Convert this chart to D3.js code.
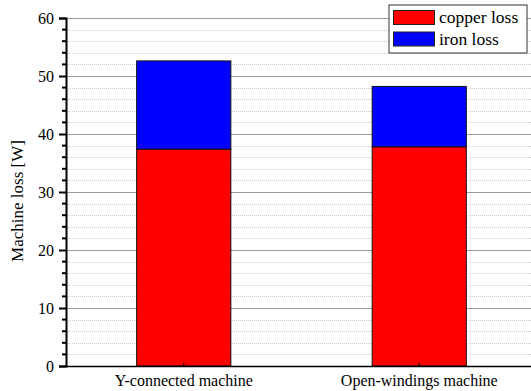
<!DOCTYPE html>
<html>
<head>
<meta charset="utf-8">
<script src="https://cdn.jsdelivr.net/npm/d3@7"></script>
<style>
  html, body { margin: 0; padding: 0; background: #fff; }
  svg { display: block; font-family: "Liberation Serif", "Times New Roman", serif; }
  svg text { font-family: "Liberation Serif", "Times New Roman", serif; fill: #000; }
</style>
</head>
<body>
<svg id="chart" width="531" height="391"></svg>
<script>
// Machine loss breakdown per winding configuration
const categories = ["Y-connected machine", "Open-windings machine"];
const copperLoss = [37.4, 37.8];
const ironLoss = [15.2, 10.4];
const seriesNames = ["copper loss", "iron loss"];
const seriesColors = ["#ff0000", "#0000ff"];
const yMajorTicks = [0, 10, 20, 30, 40, 50, 60];
const yMinorTicks = d3.range(0, 61, 2).filter(v => v % 10 !== 0);

const svg = d3.select("#chart");
const plotLeft = 66, plotRight = 537, plotTop = 18, plotBottom = 366;

const y = d3.scaleLinear().domain([0, 60]).range([plotBottom, plotTop]);
const x = d3.scaleBand().domain(categories).range([plotLeft, plotRight]).paddingInner(0.6).paddingOuter(0.3);

const rows = categories.map((c, i) => ({ cat: c, copper: copperLoss[i], iron: ironLoss[i] }));
const stacked = d3.stack().keys(["copper", "iron"])(rows);

// grid lines
svg.append("g").selectAll("line").data(yMinorTicks).join("line")
  .attr("x1", plotLeft).attr("x2", 531)
  .attr("y1", d => Math.round(y(d)) + 0.5).attr("y2", d => Math.round(y(d)) + 0.5)
  .attr("stroke", "#c8c8c8").attr("stroke-width", 1).attr("stroke-dasharray", "1,1");
svg.append("g").selectAll("line").data(yMajorTicks.filter(v => v > 0)).join("line")
  .attr("x1", plotLeft).attr("x2", 531)
  .attr("y1", d => Math.round(y(d)) + 0.5).attr("y2", d => Math.round(y(d)) + 0.5)
  .attr("stroke", "#999").attr("stroke-width", 1);

// stacked bars
svg.append("g").selectAll("g").data(stacked).join("g")
  .attr("fill", (d, i) => seriesColors[i])
  .selectAll("rect").data(d => d).join("rect")
  .attr("x", d => x(d.data.cat))
  .attr("width", x.bandwidth())
  .attr("y", d => y(d[1]))
  .attr("height", d => y(d[0]) - y(d[1]))
  .attr("stroke", "#111").attr("stroke-width", 1);

// y axis
const yAxis = svg.append("g").attr("transform", `translate(${plotLeft},0)`)
  .call(d3.axisLeft(y).tickValues(yMajorTicks).tickSize(7).tickPadding(5));
yAxis.attr("font-family", null);
yAxis.select(".domain").attr("stroke", "#000").attr("stroke-width", 2);
yAxis.selectAll(".tick line").attr("stroke-width", 2);
yAxis.selectAll(".tick text").style("font-size", "16px");
svg.append("g").selectAll("line").data(yMinorTicks).join("line")
  .attr("x1", plotLeft - 4).attr("x2", plotLeft)
  .attr("y1", d => y(d)).attr("y2", d => y(d))
  .attr("stroke", "#000").attr("stroke-width", 2);

// x axis
const xAxis = svg.append("g").attr("transform", `translate(0,${plotBottom})`)
  .call(d3.axisBottom(x).tickSize(-3).tickPadding(9).tickSizeOuter(0));
xAxis.attr("font-family", null);
xAxis.select(".domain").attr("stroke", "#000").attr("stroke-width", 1.5);
xAxis.selectAll(".tick text").style("font-size", "16px");

// axis title
svg.append("text")
  .attr("transform", `translate(23,201) rotate(-90)`)
  .attr("text-anchor", "middle")
  .style("font-size", "17px")
  .text("Machine loss [W]");

// legend
const lg = svg.append("g").attr("transform", "translate(389,5)");
lg.append("rect").attr("width", 138).attr("height", 48)
  .attr("fill", "#fff").attr("stroke", "#333").attr("stroke-width", 1);
seriesNames.forEach((name, i) => {
  lg.append("rect").attr("x", 4.5).attr("y", 5.5 + i * 21.5).attr("width", 41).attr("height", 14)
    .attr("fill", seriesColors[i]).attr("stroke", "#222").attr("stroke-width", 1);
  lg.append("text").attr("x", 50).attr("y", 18 + i * 21.5)
    .style("font-size", "17.5px").text(name);
});
</script>
</body>
</html>
